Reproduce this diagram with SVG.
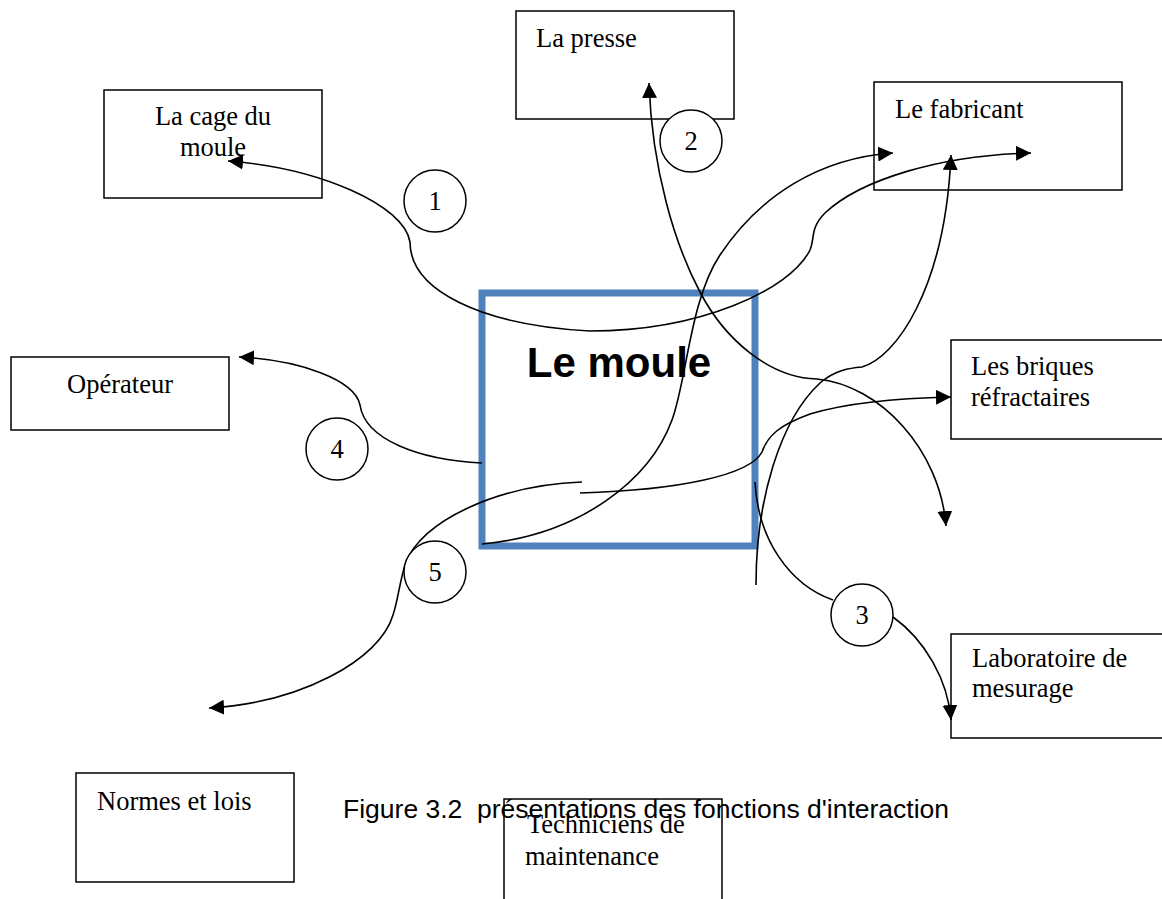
<svg xmlns="http://www.w3.org/2000/svg" width="1162" height="899" viewBox="0 0 1162 899">
  <style>
    .box { fill: #fff; stroke: #000; stroke-width: 1.5; }
    .lbl { font-family: "Liberation Serif", "Times New Roman", serif; font-size: 26.5px; fill: #000; }
    .num { font-family: "Liberation Serif", "Times New Roman", serif; font-size: 26.5px; fill: #000; text-anchor: middle; }
    .ring { fill: #fff; stroke: #000; stroke-width: 1.5; }
    .wire { fill: none; stroke: #000; stroke-width: 1.6; }
    .arr { marker-end: url(#head); }
    .both { marker-start: url(#headR); marker-end: url(#head); }
  </style>
  <defs>
    <marker id="head" viewBox="0 0 15 15" refX="15" refY="7.5" markerWidth="15" markerHeight="15" markerUnits="userSpaceOnUse" orient="auto">
      <path d="M0,0 L15,7.5 L0,15 z" fill="#000"/>
    </marker>
    <marker id="headR" viewBox="0 0 15 15" refX="15" refY="7.5" markerWidth="15" markerHeight="15" markerUnits="userSpaceOnUse" orient="auto-start-reverse">
      <path d="M0,0 L15,7.5 L0,15 z" fill="#000"/>
    </marker>
  </defs>

  <rect width="1162" height="899" fill="#fff"/>

  <!-- surrounding elements -->
  <g id="cage">
    <rect class="box" x="104" y="90" width="218" height="108"/>
    <text class="lbl" x="213" y="125" text-anchor="middle">La cage du</text>
    <text class="lbl" x="213" y="156" text-anchor="middle">moule</text>
  </g>
  <g id="presse">
    <rect class="box" x="516" y="11" width="218" height="108"/>
    <text class="lbl" x="536" y="47">La presse</text>
  </g>
  <g id="fabricant">
    <rect class="box" x="874" y="82" width="248" height="108"/>
    <text class="lbl" x="895" y="118">Le fabricant</text>
  </g>
  <g id="operateur">
    <rect class="box" x="11" y="357" width="218" height="73"/>
    <text class="lbl" x="120" y="393" text-anchor="middle">Opérateur</text>
  </g>
  <g id="briques">
    <rect class="box" x="951" y="340" width="220" height="99"/>
    <text class="lbl" x="971" y="375">Les briques</text>
    <text class="lbl" x="971" y="406">réfractaires</text>
  </g>
  <g id="laboratoire">
    <rect class="box" x="951" y="634" width="220" height="104"/>
    <text class="lbl" x="972" y="667">Laboratoire de</text>
    <text class="lbl" x="972" y="697">mesurage</text>
  </g>
  <g id="normes">
    <rect class="box" x="76" y="773" width="218" height="109"/>
    <text class="lbl" x="97" y="810">Normes et lois</text>
  </g>
  <g id="techniciens">
    <rect class="box" x="504" y="799" width="218" height="110"/>
    <text class="lbl" x="527" y="833">Techniciens de</text>
    <text class="lbl" x="525" y="865">maintenance</text>
  </g>

  <!-- central element -->
  <g id="moule">
    <rect x="482" y="293" width="273" height="253" fill="none" stroke="#4F81BD" stroke-width="7"/>
    <text x="619" y="377" text-anchor="middle" font-family="'Liberation Sans', Arial, sans-serif" font-size="42" font-weight="bold" fill="#000">Le moule</text>
  </g>

  <!-- interaction functions -->
  <g id="connectors">
    <!-- 1: cage du moule <-> fabricant -->
    <path class="wire both" d="M228,161 C320,168 404,205 410,242 C410,290 480,325 590,331 C700,331 790,290 810,250 C815,238 810,228 825,213 C860,180 940,155 1031,153"/>
    <!-- 2: presse <-> briques -->
    <path class="wire both" d="M649,83 C652,170 675,245 700,292 C725,340 770,378 817,379 C880,385 940,450 946,526"/>
    <!-- moule -> fabricant -->
    <path class="wire arr" d="M482,544 C580,535 650,480 672,420 C687,379 690,300 720,255 C760,195 820,158 893,153"/>
    <!-- moule -> fabricant (upward) -->
    <path class="wire arr" d="M756,585 C756,500 780,420 820,383 C835,370 850,368 862,367 C895,358 945,290 951,155"/>
    <!-- 3: moule -> laboratoire -->
    <path class="wire" d="M755,482 C758,540 790,585 833,600"/>
    <path class="wire arr" d="M893,617 C925,640 948,680 951,720"/>
    <!-- 4: moule -> operateur -->
    <path class="wire arr" d="M482,463 C420,460 365,440 360,405 C355,380 300,360 239,357"/>
    <!-- 5: moule -> normes -->
    <path class="wire arr" d="M582,482 C500,485 420,520 405,565 C399,585 398,600 393,615 C380,660 300,703 209,708"/>
    <!-- moule -> briques -->
    <path class="wire arr" d="M580,493 C680,490 750,475 762,452 C768,435 780,425 810,414 C850,402 900,398 951,397"/>
  </g>

  <!-- function numbers -->
  <g id="n1"><circle class="ring" cx="435" cy="201" r="31"/><text class="num" x="435" y="210">1</text></g>
  <g id="n2"><circle class="ring" cx="691" cy="141" r="31"/><text class="num" x="691" y="150">2</text></g>
  <g id="n3"><circle class="ring" cx="862" cy="615" r="31"/><text class="num" x="862" y="624">3</text></g>
  <g id="n4"><circle class="ring" cx="337" cy="449" r="31"/><text class="num" x="337" y="458">4</text></g>
  <g id="n5"><circle class="ring" cx="435" cy="572" r="31"/><text class="num" x="435" y="581">5</text></g>

  <text id="caption" x="343" y="818" xml:space="preserve" font-family="'Liberation Sans', Arial, sans-serif" font-size="26.5" fill="#000">Figure 3.2  présentations des fonctions d'interaction</text>
</svg>
